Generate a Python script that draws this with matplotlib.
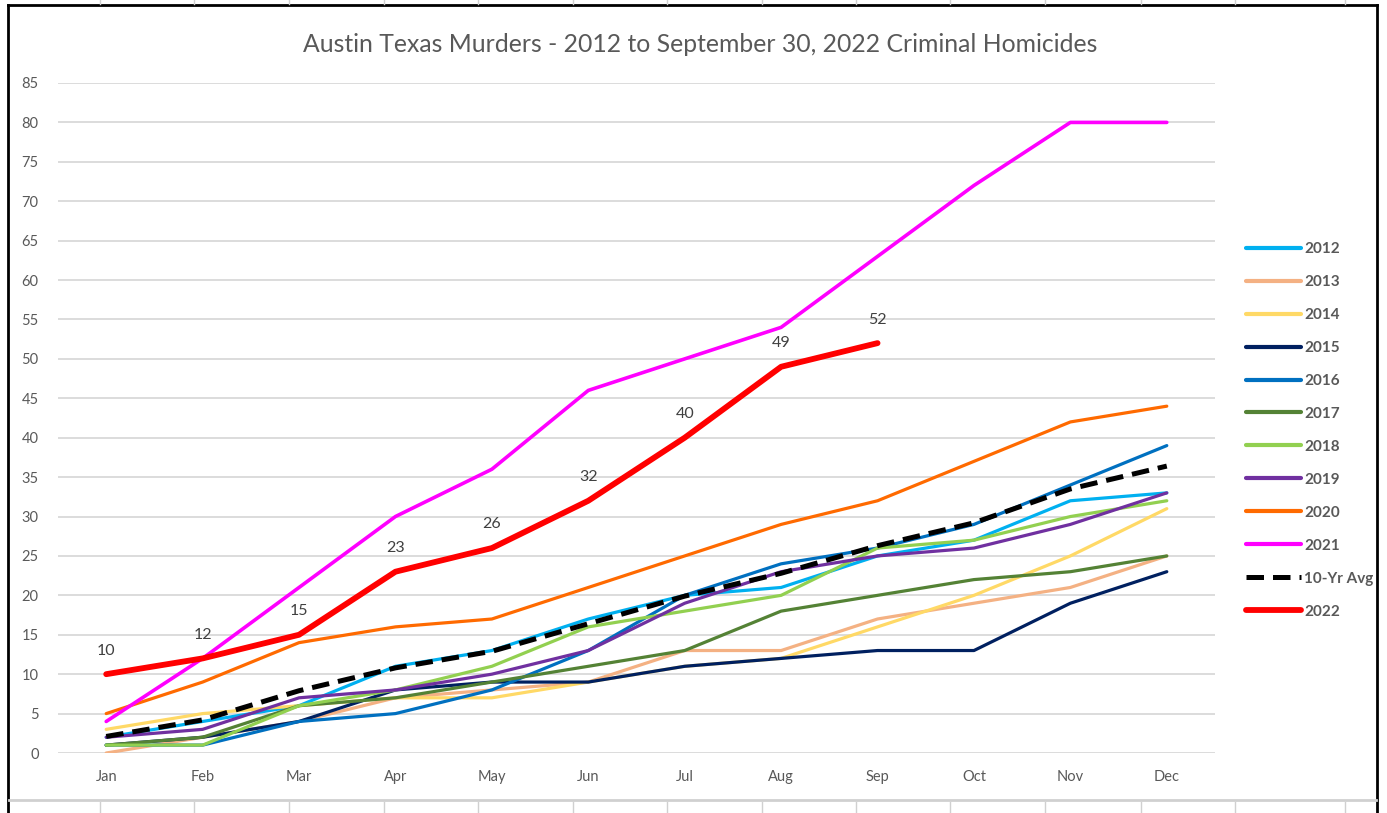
import matplotlib.pyplot as plt
from matplotlib.lines import Line2D

plt.rcParams['font.family'] = ['Lato', 'DejaVu Sans']

months = ["Jan", "Feb", "Mar", "Apr", "May", "Jun", "Jul", "Aug", "Sep", "Oct", "Nov", "Dec"]

y2012 = [2, 4, 6, 11, 13, 17, 20, 21, 25, 27, 32, 33]
y2013 = [0, 2, 4, 7, 8, 9, 13, 13, 17, 19, 21, 25]
y2014 = [3, 5, 6, 7, 7, 9, 11, 12, 16, 20, 25, 31]
y2015 = [1, 2, 4, 8, 9, 9, 11, 12, 13, 13, 19, 23]
y2016 = [1, 1, 4, 5, 8, 13, 20, 24, 26, 29, 34, 39]
y2017 = [1, 2, 6, 7, 9, 11, 13, 18, 20, 22, 23, 25]
y2018 = [1, 1, 6, 8, 11, 16, 18, 20, 26, 27, 30, 32]
y2019 = [2, 3, 7, 8, 10, 13, 19, 23, 25, 26, 29, 33]
y2020 = [5, 9, 14, 16, 17, 21, 25, 29, 32, 37, 42, 44]
y2021 = [4, 12, 21, 30, 36, 46, 50, 54, 63, 72, 80, 80]
avg10 = [2.1, 4.2, 7.9, 10.8, 12.9, 16.4, 19.9, 22.8, 26.3, 29.2, 33.5, 36.4]
y2022 = [10, 12, 15, 23, 26, 32, 40, 49, 52]

years = ["2012", "2013", "2014", "2015", "2016", "2017", "2018", "2019", "2020", "2021"]
series = [y2012, y2013, y2014, y2015, y2016, y2017, y2018, y2019, y2020, y2021]
colors = ["#00B0F0", "#F4B183", "#FFD966", "#002060", "#0070C0",
          "#548235", "#92D050", "#7030A0", "#FF6A00", "#FF00FF"]

W, H = 1387, 813
fig = plt.figure(figsize=(W / 100, H / 100), dpi=100)
ax = fig.add_axes([58 / W, (H - 753) / H, (1215 - 58) / W, (753 - 83) / H])

x = list(range(12))
handles = []
for name, vals, c in zip(years, series, colors):
    lw = 2.6 if name == "2021" else 2.3
    ln, = ax.plot(x[:len(vals)], vals, color=c, lw=lw, solid_capstyle="round", label=name)
    handles.append(ln)

ln, = ax.plot(x, avg10, color="black", lw=3.6, ls=(0, (3.5, 1.8)), label="10-Yr Avg")
handles.append(ln)
ln, = ax.plot(x[:len(y2022)], y2022, color="#FF0000", lw=4.2, solid_capstyle="round", label="2022")
handles.append(ln)

for i, v in enumerate(y2022):
    ax.annotate(str(v), (i, v), xytext=(0, 17), textcoords="offset points",
                ha="center", va="center", fontsize=11.5, color="#404040")

ax.set_xlim(-0.5, 11.5)
ax.set_ylim(0, 85)
ax.set_yticks(range(0, 86, 5))
ax.set_xticks(x)
ax.set_xticklabels(months)
ax.grid(axis="y", color="#D9D9D9", lw=1.3)
ax.set_axisbelow(True)
for s in ax.spines.values():
    s.set_visible(False)
ax.tick_params(length=0, labelsize=10.5, labelcolor="#595959")
ax.tick_params(axis="y", pad=14)
ax.tick_params(axis="x", pad=12)

fig.text(700 / W, 1 - 45 / H, "Austin Texas Murders - 2012 to September 30, 2022 Criminal Homicides",
         ha="center", va="center", fontsize=17.8, color="#595959")

leg = fig.legend(handles=handles, loc="upper left", bbox_to_anchor=(1240 / W, 1 - 236 / H),
                 frameon=False, fontsize=11, handlelength=3.6, handletextpad=0.2,
                 labelspacing=1.24, borderaxespad=0)
for t in leg.get_texts():
    t.set_color("#595959")
    t.set_fontweight("bold")
for h in leg.legend_handles[:10]:
    h.set_linewidth(3.0)

# screenshot frame and spreadsheet cells around the chart
fig.add_artist(Line2D([8 / W, 8 / W], [0, 1 - 5 / H], transform=fig.transFigure, color="black", lw=2))
fig.add_artist(Line2D([1377 / W, 1377 / W], [0, 1 - 5 / H], transform=fig.transFigure, color="black", lw=2))
fig.add_artist(Line2D([8 / W, 1377 / W], [1 - 5 / H, 1 - 5 / H], transform=fig.transFigure, color="black", lw=2))
fig.add_artist(Line2D([9 / W, 1376 / W], [1 - 800 / H, 1 - 800 / H], transform=fig.transFigure, color="#D0D0D0", lw=2))
for cx in [100, 194, 289, 384, 478, 573, 667, 762, 856, 950, 1045, 1141, 1235, 1345]:
    fig.add_artist(Line2D([cx / W, cx / W], [0, 1 - 802 / H], transform=fig.transFigure, color="#D0D0D0", lw=1))
    fig.add_artist(Line2D([cx / W, cx / W], [1 - 4 / H, 1], transform=fig.transFigure, color="#D0D0D0", lw=1))

fig.savefig("out.png", dpi=100)
